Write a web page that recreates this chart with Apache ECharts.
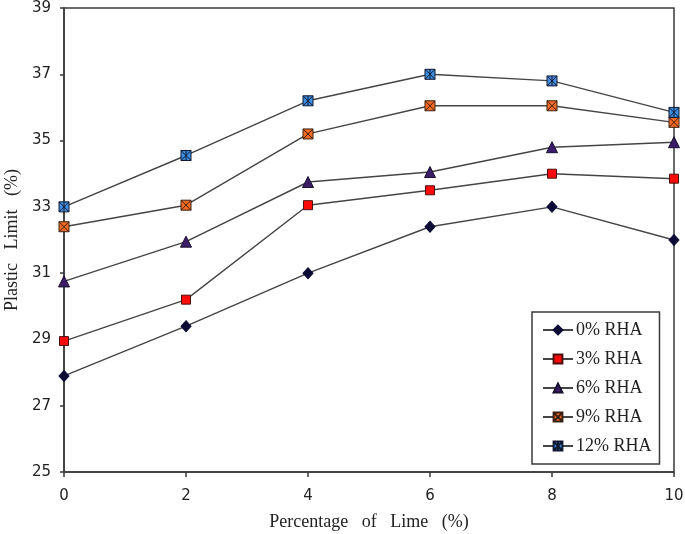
<!DOCTYPE html>
<html>
<head>
<meta charset="utf-8">
<script src="https://cdn.jsdelivr.net/npm/echarts@6/dist/echarts.min.js"></script>
<style>html,body{margin:0;padding:0;background:#fff;}#c{width:685px;height:534px;}</style>
</head>
<body>
<div id="c"></div>
<script>
const limeCategories = [0, 2, 4, 6, 8, 10];
const rha0 = [27.9, 29.4, 31.0, 32.4, 33.0, 32.0];
const rha3 = [28.95, 30.2, 33.05, 33.5, 34.0, 33.85];
const rha6 = [30.75, 31.95, 33.75, 34.05, 34.8, 34.95];
const rha9 = [32.4, 33.05, 35.2, 36.05, 36.05, 35.55];
const rha12 = [33.0, 34.55, 36.2, 37.0, 36.8, 35.85];
const seriesNames = ['0% RHA', '3% RHA', '6% RHA', '9% RHA', '12% RHA'];

const xSym = 'path://M0,0L10,0L10,10L0,10Z M0,0L10,10 M10,0L0,10';
const starSym = 'path://M0,0L10,0L10,10L0,10Z M0,0L10,10 M10,0L0,10 M5,0L5,10';

function pairs(vals){ return limeCategories.map((x,i)=>[x, vals[i]]); }

const styles = [
  {symbol:'diamond', size:[10,11], color:'#0b0b35', border:'#0b0b35'},
  {symbol:'rect', size:9, color:'#ff0a0a', border:'#4a1010'},
  {symbol:'triangle', size:11, color:'#3a1d66', border:'#1a1030'},
  {symbol:xSym, size:10, color:'#f56a22', border:'#3a2010'},
  {symbol:starSym, size:10, color:'#3d8de0', border:'#101830'}
];
const dataSets = [rha0, rha3, rha6, rha9, rha12];

const chart = echarts.init(document.getElementById('c'));
chart.setOption({
  animation: false,
  backgroundColor: '#fff',
  grid: {left: 64, right: 11, top: 8, bottom: 62, containLabel: false, outerBoundsMode: 'none',
         show: true, borderColor: '#3a3a3a', borderWidth: 1.5, backgroundColor: 'transparent'},
  xAxis: {
    type: 'value', min: 0, max: 10, interval: 2,
    name: 'Percentage   of   Lime   (%)', nameLocation: 'middle', nameGap: 41,
    nameTextStyle: {fontFamily: 'Liberation Serif', fontSize: 18, color: '#222'},
    axisLine: {lineStyle: {color: '#3a3a3a', width: 1.5}},
    axisTick: {show: true, inside: false, length: 5, lineStyle: {color: '#3a3a3a', width: 1.5}},
    axisLabel: {fontFamily: 'DejaVu Sans', fontSize: 15, color: '#222', margin: 17},
    splitLine: {show: false}
  },
  yAxis: {
    type: 'value', min: 25, max: 39, interval: 2,
    name: 'Plastic   Limit   (%)', nameLocation: 'middle', nameGap: 43,
    nameTextStyle: {fontFamily: 'Liberation Serif', fontSize: 18, color: '#222'},
    axisLine: {lineStyle: {color: '#3a3a3a', width: 1.5}},
    axisTick: {show: true, inside: false, length: 4, lineStyle: {color: '#3a3a3a', width: 1.5}},
    axisLabel: {fontFamily: 'DejaVu Sans', fontSize: 15, color: '#222', margin: 13},
    splitLine: {show: false}
  },
  legend: {
    orient: 'vertical', left: 532, top: 312, width: 134,
    padding: [9, 8, 9, 10], itemGap: 11, itemWidth: 30, itemHeight: 11,
    backgroundColor: '#fff', borderColor: '#3a3a3a', borderWidth: 1.5,
    textStyle: {fontFamily: 'Liberation Serif', fontSize: 18, color: '#222', lineHeight: 18, padding: [0,0,0,-2]},
    data: seriesNames
  },
  series: dataSets.map((d, i) => ({
    name: seriesNames[i], type: 'line', data: pairs(d),
    symbol: styles[i].symbol, symbolSize: styles[i].size, showAllSymbol: true,
    lineStyle: {color: '#454545', width: 1.4},
    itemStyle: {color: styles[i].color, borderColor: styles[i].border, borderWidth: 1},
    z: 2 + i
  }))
});
</script>
</body>
</html>
